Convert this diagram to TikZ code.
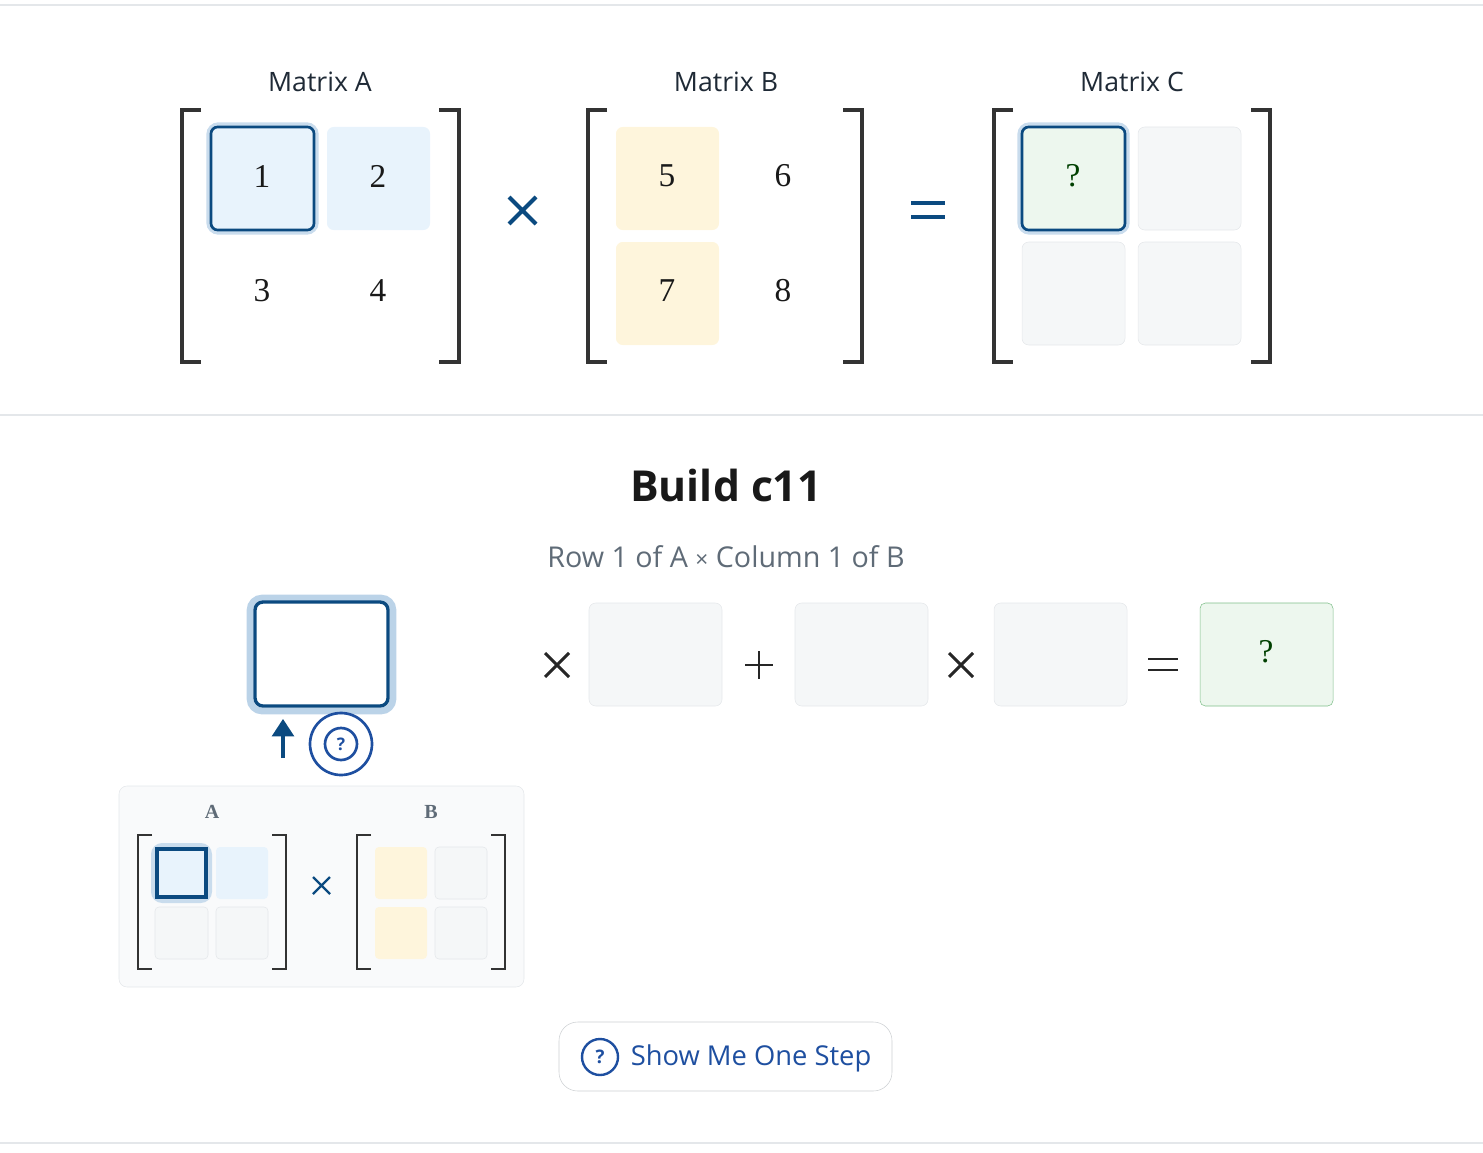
\documentclass[tikz,border=0pt]{standalone}
\usepackage{fontspec}
\setsansfont{Open Sans}
\setmainfont{Liberation Serif}
\usetikzlibrary{arrows.meta}
\definecolor{navy}{HTML}{0B4A80}
\definecolor{btnblue}{HTML}{1E4FA0}
\definecolor{lblue}{HTML}{E8F3FC}
\definecolor{cream}{HTML}{FEF5DC}
\definecolor{lgreen}{HTML}{EDF7EE}
\definecolor{gcell}{HTML}{F5F7F8}
\definecolor{gline}{HTML}{E4E7EA}
\definecolor{haloc}{HTML}{BBD3E8}
\definecolor{dark}{HTML}{1F2A36}
\definecolor{subg}{HTML}{5F6B77}
\definecolor{brkc}{HTML}{333333}
\definecolor{gbord}{HTML}{7FBF8A}
\begin{document}
\begin{tikzpicture}[x=0.75pt,y=-0.75pt,
  brk/.style={line width=3pt,draw=brkc},
  lbl/.style={font=\sffamily\fontsize{20}{22}\selectfont,text=dark},
  num/.style={font=\fontsize{25}{28}\selectfont,text=black!90},
  cellE/.style={fill=gcell,draw=gline,rounded corners=5pt},
  sel/.style={draw=navy,line width=2pt,rounded corners=5pt},
  halo/.style={draw=haloc!80,line width=4pt,rounded corners=7pt},
  opl/.style={line width=2.2pt,draw=black!85}]
\useasboundingbox (0,0) rectangle (1483,1152);
\draw[gline,line width=1pt] (0,5) -- (1483,5);
\draw[gline,line width=1pt] (0,415) -- (1483,415);
\draw[gline,line width=1pt] (0,1143) -- (1483,1143);
% labels
\node[lbl] (la) at (320,82) {Matrix A};
\node[lbl] (lb) at (726,82) {Matrix B};
\node[lbl] (lc) at (1132,82) {Matrix C};
% Matrix A
\draw[brk] (201,110) -| (182,362) -- (201,362);
\draw[brk] (439,110) -| (459,362) -- (439,362);
\draw[halo] (209,125) rectangle (316,232);
\fill[lblue,rounded corners=5pt] (211,127) rectangle (314,230);
\draw[sel] (211,127) rectangle (314,230);
\fill[lblue,rounded corners=5pt] (327,127) rectangle (430,230);
\node[num] (a1) at (262,176) {1};
\node[num] (a2) at (378,176) {2};
\node[num] (a3) at (262,291) {3};
\node[num] (a4) at (378,291) {4};
\draw[navy,line width=3pt] (509,197) -- (536,224) (509,224) -- (536,197);
% Matrix B
\draw[brk] (607,110) -| (588,362) -- (607,362);
\draw[brk] (843,110) -| (862,362) -- (843,362);
\fill[cream,rounded corners=5pt] (616,127) rectangle (719,230);
\fill[cream,rounded corners=5pt] (616,242) rectangle (719,345);
\node[num] (b1) at (667,176) {5};
\node[num] (b2) at (783,176) {6};
\node[num] (b3) at (667,291) {7};
\node[num] (b4) at (783,291) {8};
\draw[navy,line width=3.2pt] (911,203) -- (945,203) (911,217) -- (945,217);
% Matrix C
\draw[brk] (1013,110) -| (994,362) -- (1013,362);
\draw[brk] (1251,110) -| (1270,362) -- (1251,362);
\draw[halo] (1020,125) rectangle (1127,232);
\draw[cellE] (1138,127) rectangle (1241,230);
\draw[cellE] (1022,242) rectangle (1125,345);
\draw[cellE] (1138,242) rectangle (1241,345);
\fill[lgreen,rounded corners=5pt] (1022,127) rectangle (1125,230);
\draw[sel] (1022,127) rectangle (1125,230);
\node[num,text=green!25!black] (c1) at (1073,176) {?};
% build
\node[font=\sffamily\bfseries\fontsize{32}{36}\selectfont,text=black!90] (title) at (726,485) {Build c11};
\node[font=\sffamily\fontsize{21.5}{24}\selectfont,text=subg] (sub) at (726,557) {Row 1 of A {\fontsize{17}{17}\selectfont×} Column 1 of B};
% slot
\draw[draw=haloc,line width=5pt,rounded corners=9pt] (250,598) rectangle (393,711);
\draw[draw=navy,line width=2.5pt,fill=white,rounded corners=6pt] (255,602) rectangle (388,706);
\node (slot) at (321,654) {};
\draw[navy,line width=3.5pt,-{Triangle[length=13pt,width=17pt,fill=navy,line width=0pt]}] (283,758) -- (283,719);
\draw[btnblue,line width=2pt] (341,744) circle (31);
\draw[btnblue,line width=2pt] (341,744) circle (16);
\node[font=\sffamily\bfseries\fontsize{13}{14}\selectfont,text=btnblue] (hq) at (341,744) {?};
% equation row
\draw[opl] (545,653) -- (569,677) (545,677) -- (569,653);
\draw[cellE] (589,603) rectangle (722,706);
\draw[opl] (745,665) -- (773,665) (759,651) -- (759,679);
\draw[cellE] (795,603) rectangle (928,706);
\draw[opl] (949,653) -- (973,677) (949,677) -- (973,653);
\draw[cellE] (994,603) rectangle (1127,706);
\draw[opl] (1148,659) -- (1178,659) (1148,670) -- (1178,670);
\draw[fill=lgreen,draw=gbord,rounded corners=4pt] (1200,603) rectangle (1333,706);
\node[num,text=green!25!black] (r) at (1266,652) {?};
% panel
\draw[fill=gcell!60,draw=gline,rounded corners=6pt] (119,786) rectangle (524,987);
\node[font=\bfseries\fontsize{15}{17}\selectfont,text=subg] (pa) at (212,812) {A};
\node[font=\bfseries\fontsize{15}{17}\selectfont,text=subg] (pb) at (431,812) {B};
\draw[brk,line width=2.2pt] (152,835) -| (138,969) -- (152,969);
\draw[brk,line width=2.2pt] (272,835) -| (286,969) -- (272,969);
\draw[halo,line width=3pt] (153,845) rectangle (210,901);
\fill[lblue,rounded corners=3pt] (155,847) rectangle (208,899);
\draw[navy,line width=2.5pt] (157,849) rectangle (206,897);
\fill[lblue,rounded corners=3pt] (216,847) rectangle (268,899);
\draw[cellE,rounded corners=3pt] (155,907) rectangle (208,959);
\draw[cellE,rounded corners=3pt] (216,907) rectangle (268,959);
\draw[navy,line width=1.8pt] (313,877) -- (330,894) (313,894) -- (330,877);
\draw[brk,line width=2.2pt] (371,835) -| (357,969) -- (371,969);
\draw[brk,line width=2.2pt] (491,835) -| (505,969) -- (491,969);
\fill[cream,rounded corners=3pt] (375,847) rectangle (427,899);
\fill[cream,rounded corners=3pt] (375,907) rectangle (427,959);
\draw[cellE,rounded corners=3pt] (435,847) rectangle (487,899);
\draw[cellE,rounded corners=3pt] (435,907) rectangle (487,959);
% button
\draw[fill=white,draw=gline!90!black,rounded corners=14pt] (559,1022) rectangle (892,1091);
\draw[btnblue,line width=1.8pt] (600,1057) circle (18);
\node[font=\sffamily\bfseries\fontsize{14}{16}\selectfont,text=btnblue] (bq) at (600,1057) {?};
\node[font=\sffamily\fontsize{20.5}{24}\selectfont,text=btnblue] (bt) at (751,1058) {Show Me One Step};
\end{tikzpicture}
\end{document}
